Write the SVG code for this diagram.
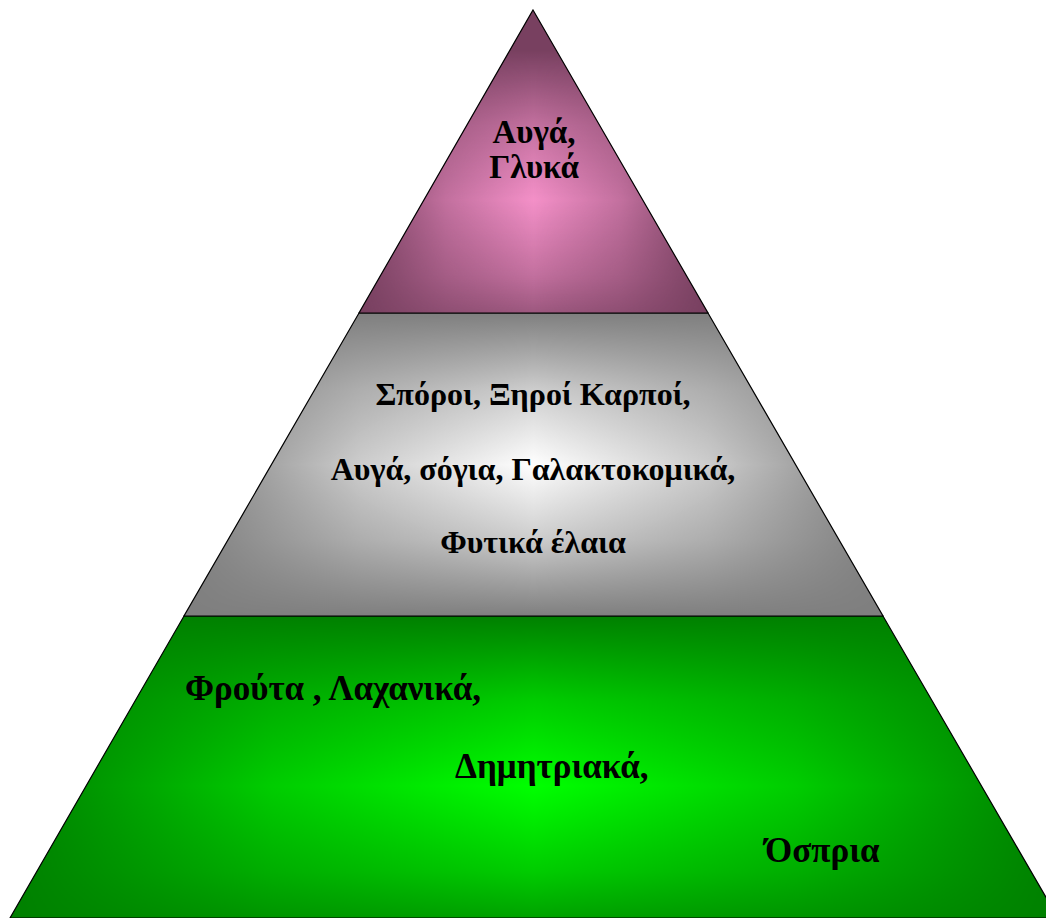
<svg xmlns="http://www.w3.org/2000/svg" width="1046" height="918" viewBox="0 0 1046 918">
<style>
.lbl{font-family:"Liberation Serif","DejaVu Serif",serif;font-weight:bold;fill:#000}
.mid{font-size:32px;text-anchor:middle}
.top{font-size:33px;text-anchor:middle}
.bot{font-size:35px;text-anchor:start}
.seg{stroke:#000;stroke-width:1.2}
</style>
<defs>
<linearGradient id="hx" x1="0" y1="0" x2="1" y2="0">
<stop offset="0" stop-color="#000"/><stop offset="0.25" stop-color="#9a9a9a"/><stop offset="0.5" stop-color="#fff"/><stop offset="0.75" stop-color="#9a9a9a"/><stop offset="1" stop-color="#000"/>
</linearGradient>
<linearGradient id="vy" x1="0" y1="0" x2="0" y2="1">
<stop offset="0" stop-color="#000"/><stop offset="0.25" stop-color="#9a9a9a"/><stop offset="0.5" stop-color="#fff"/><stop offset="0.75" stop-color="#9a9a9a"/><stop offset="1" stop-color="#000"/>
</linearGradient>
<mask id="mTopX" maskUnits="userSpaceOnUse" x="0" y="0" width="1046" height="918"><rect x="359" y="10" width="349" height="303" fill="url(#hx)"/></mask>
<mask id="mTopY" maskUnits="userSpaceOnUse" x="0" y="0" width="1046" height="918"><rect x="359" y="50" width="349" height="300" fill="url(#vy)"/></mask>
<mask id="mMidX" maskUnits="userSpaceOnUse" x="0" y="0" width="1046" height="918"><rect x="184" y="313" width="699" height="303" fill="url(#hx)"/></mask>
<mask id="mMidY" maskUnits="userSpaceOnUse" x="0" y="0" width="1046" height="918"><rect x="184" y="313" width="699" height="303" fill="url(#vy)"/></mask>
<mask id="mBotX" maskUnits="userSpaceOnUse" x="0" y="0" width="1046" height="918"><rect x="10" y="616" width="1048" height="340" fill="url(#hx)"/></mask>
<mask id="mBotY" maskUnits="userSpaceOnUse" x="0" y="0" width="1046" height="918"><rect x="10" y="616" width="1048" height="340" fill="url(#vy)"/></mask>
</defs>

<g id="bottom-tier">
<polygon points="184,616 883,616 1058,918 10,918" fill="#008000"/>
<g mask="url(#mBotX)"><polygon points="184,616 883,616 1058,918 10,918" fill="#00ff00" mask="url(#mBotY)"/></g>
<polygon class="seg" points="184,616 883,616 1058,918 10,918" fill="none"/>
<text class="lbl bot" x="185" y="700">Φρούτα , Λαχανικά,</text>
<text class="lbl bot" x="455" y="778">Δημητριακά,</text>
<text class="lbl bot" x="765" y="862">Όσπρια</text>
</g>

<g id="middle-tier">
<polygon points="359,313 708,313 883,616 184,616" fill="#7f7f7f"/>
<g mask="url(#mMidX)"><polygon points="359,313 708,313 883,616 184,616" fill="#ffffff" mask="url(#mMidY)"/></g>
<polygon class="seg" points="359,313 708,313 883,616 184,616" fill="none"/>
<text class="lbl mid" x="533" y="405">Σπόροι, Ξηροί Καρποί,</text>
<text class="lbl mid" x="533" y="480">Αυγά, σόγια, Γαλακτοκομικά,</text>
<text class="lbl mid" x="533" y="553">Φυτικά έλαια</text>
</g>

<g id="top-tier">
<polygon points="533,10 708,313 359,313" fill="#784060"/>
<g mask="url(#mTopX)"><polygon points="533,10 708,313 359,313" fill="#f490c8" mask="url(#mTopY)"/></g>
<polygon class="seg" points="533,10 708,313 359,313" fill="none"/>
<text class="lbl top" x="534" y="143">Αυγά,</text>
<text class="lbl top" x="534" y="178">Γλυκά</text>
</g>
</svg>
